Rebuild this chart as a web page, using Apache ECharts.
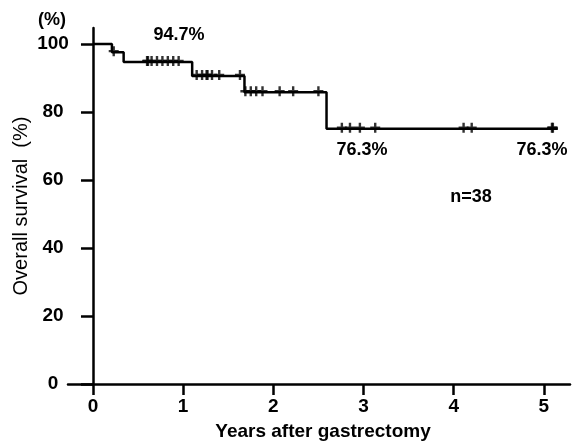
<!DOCTYPE html>
<html>
<head>
<meta charset="utf-8">
<script src="https://cdn.jsdelivr.net/npm/echarts@6/dist/echarts.min.js"></script>
<style>html,body{margin:0;padding:0;background:#fff}#c{width:572px;height:443px}</style>
</head>
<body>
<div id="c"></div>
<script>
// Kaplan-Meier step points: time (years) and survival (%)
var stepTimes = [0, 0.21, 0.34, 1.10, 1.68, 2.59, 5.155];
var stepSurv  = [100, 97.6, 94.7, 90.6, 85.8, 75.1, 75.1];
// Censored observations (years)
var censorTimes = [0.23, 0.60, 0.61, 0.65, 0.71, 0.77, 0.83, 0.89, 0.95,
                   1.15, 1.21, 1.26, 1.27, 1.32, 1.40, 1.63,
                   1.69, 1.75, 1.81, 1.88, 2.07, 2.22, 2.50,
                   2.76, 2.85, 2.96, 3.13, 4.11, 4.20, 5.09, 5.10];
var xTicks = [0, 1, 2, 3, 4, 5];
var yTicks = [0, 20, 40, 60, 80, 100];
var annotations = [
  {text: '94.7%'}, {text: '76.3%'}, {text: '76.3%'}, {text: 'n=38'}
];

function survAt(t) {
  var s = stepSurv[0];
  for (var i = 0; i < stepTimes.length; i++) { if (stepTimes[i] <= t) s = stepSurv[i]; }
  return s;
}
var curve = stepTimes.map(function (t, i) { return [t, stepSurv[i]]; });
var censors = censorTimes.map(function (t) { return [t, survAt(t)]; });

var FONT = 'Liberation Sans, Arial, sans-serif';
var chart = echarts.init(document.getElementById('c'));
var annPos = [[179, 35], [362, 150], [542, 150], [471, 197]];
chart.setOption({
  animation: false,
  grid: {left: 68, right: 2, top: 28, bottom: 59, containLabel: false},
  xAxis: {
    type: 'value', min: -0.277, max: 5.29,
    axisLine: {show: true, onZero: false, lineStyle: {color: '#000', width: 2.5}},
    axisTick: {show: true, length: 11, inside: false, customValues: xTicks, lineStyle: {color: '#000', width: 2.5}},
    axisLabel: {customValues: xTicks, color: '#000', fontFamily: FONT, fontWeight: 'bold', fontSize: 19, margin: 13},
    splitLine: {show: false}
  },
  yAxis: {
    type: 'value', min: 0, max: 104.7,
    axisLine: {show: true, onZero: true, lineStyle: {color: '#000', width: 2.5}},
    axisTick: {show: true, length: 12, customValues: yTicks, lineStyle: {color: '#000', width: 2.5}},
    axisLabel: {customValues: yTicks, color: '#000', fontFamily: FONT, fontWeight: 'bold', fontSize: 19, margin: 15, align: 'center'},
    splitLine: {show: false}
  },
  series: [
    {type: 'line', data: curve, step: 'end', symbol: 'none',
     lineStyle: {color: '#000', width: 2.5}},
    {type: 'scatter', data: censors, symbol: 'path://M3.8,0H6.2V3.8H10V6.2H6.2V10H3.8V6.2H0V3.8H3.8Z',
     symbolSize: 10, symbolOffset: [0, -1], itemStyle: {color: '#000'}}
  ],
  graphic: [
    {type: 'text', x: 52, y: 20, style: {text: '(%)', font: 'bold 18px ' + FONT, fill: '#000', align: 'center', verticalAlign: 'middle'}},
    {type: 'text', x: 21, y: 206, rotation: Math.PI / 2,
     style: {text: 'Overall survival  (%)', font: '20px ' + FONT, fill: '#000', align: 'center', verticalAlign: 'middle'}},
    {type: 'text', x: 323, y: 432,
     style: {text: 'Years after gastrectomy', font: 'bold 19px ' + FONT, fill: '#000', align: 'center', verticalAlign: 'middle'}}
  ].concat(annotations.map(function (a, i) {
    return {type: 'text', x: annPos[i][0], y: annPos[i][1],
      style: {text: a.text, font: 'bold 18px ' + FONT, fill: '#000', align: 'center', verticalAlign: 'middle'}};
  }))
});
</script>
</body>
</html>
